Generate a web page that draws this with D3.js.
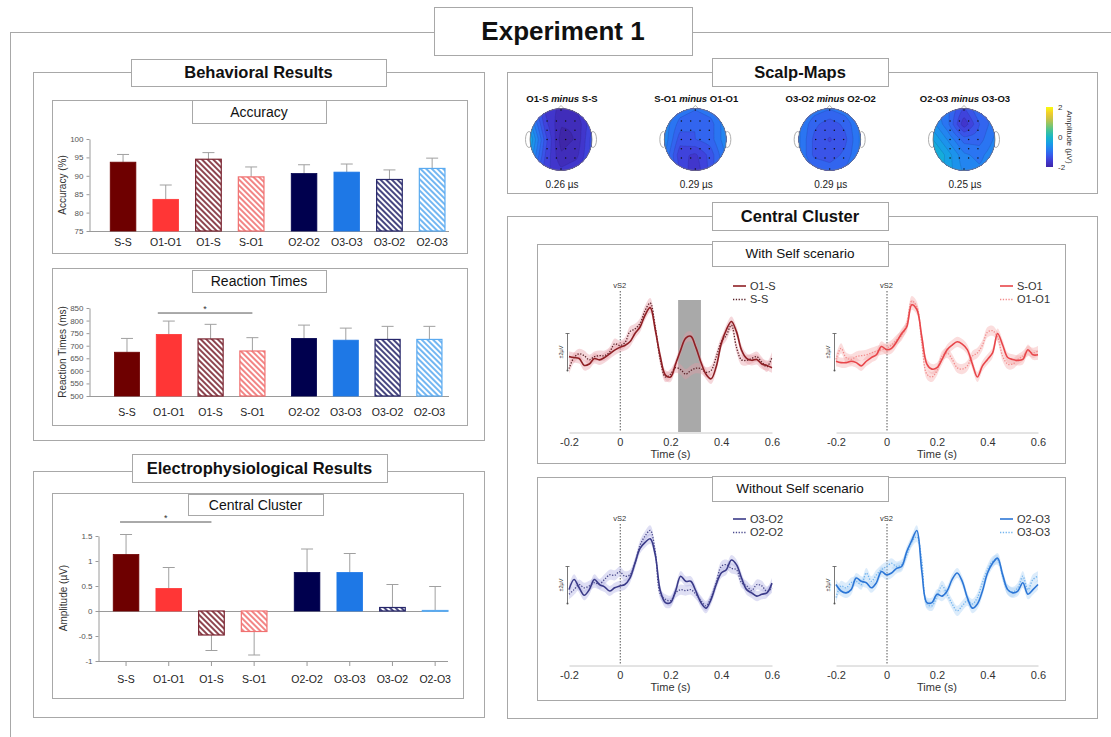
<!DOCTYPE html>
<html><head><meta charset="utf-8">
<script src="https://cdn.jsdelivr.net/npm/d3@7"></script>
<style>body{margin:0;background:#fff}svg{display:block}text{font-family:"Liberation Sans",Arial,Helvetica,sans-serif}</style>
</head><body><svg id="c" width="1111" height="737"></svg>
<script>
// ---------------- DATA ----------------
const groupCats = [["S-S","O1-O1","O1-S","S-O1"],["O2-O2","O3-O3","O3-O2","O2-O3"]];
const categories = groupCats.flat();
const accMean = [93.7, 83.6, 94.5, 89.7, 90.6, 91.0, 89.0, 92.0];
const accSem  = [2.1, 3.9, 1.8, 2.7, 2.4, 2.2, 2.6, 2.8];
const accTicks = [75, 80, 85, 90, 95, 100];
const rtMean = [674, 745, 727, 679, 729, 722, 725, 725];
const rtSem  = [55, 53, 58, 53, 53, 48, 52, 52];
const rtTicks = [500, 550, 600, 650, 700, 750, 800, 850];
const ampMean = [1.13, 0.45, -0.48, -0.41, 0.77, 0.77, 0.07, 0.01];
const ampSem  = [0.40, 0.42, 0.31, 0.47, 0.47, 0.38, 0.46, 0.48];
const ampTicks = [-1, -0.5, 0, 0.5, 1, 1.5];

const erpTimes = d3.range(41).map(i => Math.round((-0.2 + i * 0.02) * 100) / 100);
const erpTicks = [-0.2, 0, 0.2, 0.4, 0.6];
const erpO1S  = [-0.5,-0.6,-0.7,-1.45,-1.3,-0.7,-0.85,-0.6,-0.2,0.2,0.5,0.7,1.1,2.0,2.7,4.0,4.8,2.4,-0.5,-2.5,-2.7,-1.3,0.2,1.5,1.7,0.5,-1.1,-2.4,-2.9,-1.6,0.9,2.4,3.3,2.2,0.2,-0.7,-0.9,-0.8,-1.3,-1.45,-1.7];
const erpSS   = [-1.8,-0.6,-0.2,-0.4,-0.85,-0.5,-0.4,-0.4,0,0.9,0.7,1.0,2.2,2.5,3.1,4.5,5.3,2.7,-0.9,-2.7,-2.4,-1.7,-1.9,-2.4,-2.0,-1.75,-1.8,-2.2,-2.0,-0.55,1.1,1.8,2.9,0.5,-0.85,-0.9,-0.7,-0.5,-1.1,-1.6,-0.55];
const erpSO1  = [-1.0,-1.15,-1.15,-1.0,-1.15,-1.5,-1.0,-0.6,-0.3,0.6,0.25,0.4,1.1,2.0,2.7,5.1,4.6,1.6,-1.3,-1.85,-1.7,-0.8,0.25,0.75,1.1,0.85,0.25,-1.3,-2.7,-1.5,-0.8,-0.1,2.0,0.75,-0.6,-0.8,-0.9,-0.8,0.25,-0.3,-0.3];
const erpO1O1 = [-0.8,0.4,-0.6,-0.8,-0.5,-0.4,-0.3,-0.1,0.1,0.25,0.4,0.75,1.3,1.8,3.0,5.5,4.9,0.9,-2.4,-2.7,-2.0,-0.45,-0.1,-0.8,-1.7,-1.85,-1.5,-0.45,-0.1,0.75,2.15,2.3,1.6,-0.45,-1.3,-1.3,-0.8,-0.45,0.1,-0.1,0.1];
const erpO3O2 = [-0.5,0.6,-0.3,-1.1,-0.5,0.6,0.05,-0.2,-0.65,-0.3,-0.1,0.05,0.75,2.35,3.95,4.6,5.0,3.25,-0.65,-1.9,-1.9,-0.65,0.95,0.4,0.4,-0.65,-1.9,-2.5,-1.55,0.05,1.3,1.65,2.7,2.2,0.75,-0.5,-0.85,-1.2,-1.0,-0.85,0.2];
const erpO2O2 = [-1.0,-0.5,0.05,-0.3,-0.1,0.25,0.1,0.6,1.1,1.05,1.45,0.95,1.1,2.35,4.3,5.3,5.9,3.6,-1.0,-1.55,-1.7,-0.85,-0.5,-0.6,-0.5,-1.0,-1.7,-2.25,-1.35,0.25,2.0,2.2,1.8,1.65,0.25,-0.1,-0.6,0.05,-0.1,-0.7,-0.3];
const erpO2O3 = [0.05,-0.65,-0.85,-0.5,0.75,0.4,0.25,-0.3,0.25,1.45,1.1,1.3,1.8,2.0,3.6,4.8,5.9,1.45,-1.9,-1.9,-1.0,-1.2,-0.65,0.6,1.3,0.4,-1.35,-2.5,-2.05,-0.65,1.3,2.35,2.9,1.1,-0.5,-0.85,-0.65,0.25,-1.0,-0.5,0.05];
const erpO3O3 = [-1.35,-0.1,-0.3,0.25,0.4,0.05,1.3,0.4,1.1,1.65,2.0,2.35,2.0,2.2,3.25,4.65,5.2,2.55,-2.05,-2.25,-1.2,-0.1,-1.0,-2.05,-2.8,-2.25,-1.7,-2.05,-1.35,0.25,1.65,2.55,2.7,0.95,-0.5,-0.75,-0.3,0.95,-0.5,0.6,0.95];
const erpSem = 0.55;
const erpWindow = [0.23, 0.32];

const scalpTitles = [["O1-S","S-S"],["S-O1","O1-O1"],["O3-O2","O2-O2"],["O2-O3","O3-O3"]];
const scalpLatency = ["0.26 µs","0.29 µs","0.29 µs","0.25 µs"];
const scalpGrids = [
  [[-1.0,-1.6,-1.8,-1.7,-1.4],[-0.6,-1.5,-1.9,-1.9,-1.4],[-0.3,-1.3,-2.0,-1.9,-1.3],[-0.5,-1.4,-1.9,-1.8,-1.3],[-0.9,-1.5,-1.7,-1.6,-1.3]],
  [[-0.6,-0.9,-1.0,-0.9,-0.6],[-0.7,-1.1,-1.2,-1.1,-0.7],[-0.7,-1.3,-1.2,-1.1,-0.7],[-0.8,-1.5,-1.6,-1.3,-0.8],[-0.8,-1.4,-1.7,-1.3,-0.8]],
  [[-0.7,-0.9,-1.0,-0.9,-0.7],[-0.8,-1.15,-1.3,-1.15,-0.8],[-0.8,-1.25,-1.4,-1.25,-0.8],[-0.8,-1.25,-1.3,-1.15,-0.8],[-0.7,-1.0,-1.1,-1.0,-0.7]],
  [[-0.8,-1.0,-1.4,-1.0,-0.9],[-0.6,-1.0,-1.7,-1.2,-0.9],[-0.3,-0.7,-1.1,-1.1,-0.8],[0.0,-0.4,-0.8,-0.9,-0.7],[-0.1,-0.4,-0.7,-0.8,-0.7]]
];
const colorbarTicks = [2, 0, -2];

// ---------------- STYLE ----------------
const svg = d3.select("#c");
const GRAY = "#a8a8a8";
const defs = svg.append("defs");
const barStyles = [
  {color:"#6e0000", hatch:false}, {color:"#ff3636", hatch:false},
  {color:"#7a2430", hatch:true},  {color:"#f07070", hatch:true},
  {color:"#00004e", hatch:false}, {color:"#1e78e6", hatch:false},
  {color:"#26266a", hatch:true},  {color:"#5aaaf0", hatch:true}
];
barStyles.forEach((s,i) => {
  if (!s.hatch) return;
  const p = defs.append("pattern").attr("id","h"+i).attr("patternUnits","userSpaceOnUse")
    .attr("width",4).attr("height",4).attr("patternTransform","rotate(-45)");
  p.append("rect").attr("width",4).attr("height",4).attr("fill","#fff");
  p.append("line").attr("x1",2).attr("x2",2).attr("y1",0).attr("y2",4).attr("stroke",s.color).attr("stroke-width",1.7);
});

function frame(x,y,w,h){
  svg.append("rect").attr("x",x+0.5).attr("y",y+0.5).attr("width",w).attr("height",h)
    .attr("fill","none").attr("stroke",GRAY).attr("stroke-width",1);
}
function titleBox(x,y,w,h,text,size,bold){
  svg.append("rect").attr("x",x+0.5).attr("y",y+0.5).attr("width",w).attr("height",h)
    .attr("fill","#fff").attr("stroke",GRAY).attr("stroke-width",1);
  svg.append("text").attr("x",x+w/2).attr("y",y+h/2).attr("dy","0.36em").attr("text-anchor","middle")
    .attr("font-size",size).attr("font-weight",bold?"bold":"normal").attr("fill","#111").text(text);
}

// frames
frame(10,32,1120,720);
frame(33,72,451,368);
frame(52,100,415,153);
frame(52,268,415,157);
frame(33,471,451,246);
frame(52,493,411,205);
frame(507,72,590,121);
frame(507,216,590,502);
frame(537,244,528,219);
frame(537,477,528,223);

titleBox(434,7,258,48,"Experiment 1",26,true);
titleBox(131,59,255,27,"Behavioral Results",16.5,true);
titleBox(192,100,134,23,"Accuracy",14,false);
titleBox(192,270,134,22,"Reaction Times",14,false);
titleBox(132,454,255,28,"Electrophysiological Results",16.5,true);
titleBox(188,494,135,21,"Central Cluster",14,false);
titleBox(712,58,176,28,"Scalp-Maps",16.5,true);
titleBox(712,202,176,28,"Central Cluster",16.5,true);
titleBox(712,241,176,25,"With Self scenario",13.5,false);
titleBox(712,476,176,25,"Without Self scenario",13.5,false);

// ---------------- BAR CHARTS ----------------
function barChart(cfg){
  const g = svg.append("g");
  const xg = d3.scaleBand().domain([0,1]).range(cfg.xRange).paddingInner(cfg.groupPad).paddingOuter(0);
  const xi = d3.scaleBand().domain([0,1,2,3]).range([0,xg.bandwidth()]).paddingInner(0.4).paddingOuter(0.2);
  const y = d3.scaleLinear().domain(cfg.domain).range(cfg.range);
  const xc = i => xg(Math.floor(i/4)) + xi(i%4) + xi.bandwidth()/2;
  const bw = xi.bandwidth();
  g.append("line").attr("x1",cfg.axisX).attr("x2",cfg.axisEnd).attr("y1",Math.round(y(cfg.base))+0.5).attr("y2",Math.round(y(cfg.base))+0.5)
    .attr("stroke","#9a9a9a").attr("stroke-width",1);
  categories.forEach((c,i) => {
    const v = cfg.mean[i], s = barStyles[i];
    const top = Math.min(y(v), y(cfg.base)), h = Math.abs(y(v)-y(cfg.base));
    const dir = v >= cfg.base ? 1 : -1;
    const e = y(v + dir*cfg.sem[i]);
    g.append("line").attr("x1",xc(i)).attr("x2",xc(i)).attr("y1",y(v)).attr("y2",e).attr("stroke","#a0a0a0").attr("stroke-width",1);
    g.append("line").attr("x1",xc(i)-6).attr("x2",xc(i)+6).attr("y1",e).attr("y2",e).attr("stroke","#a0a0a0").attr("stroke-width",1);
    g.append("rect").attr("x",xc(i)-bw/2).attr("y",top).attr("width",bw).attr("height",Math.max(h,0.8))
      .attr("fill", s.hatch ? "url(#h"+i+")" : s.color).attr("stroke",s.color).attr("stroke-width",s.hatch?1.2:0.8);
    g.append("text").attr("x",xc(i)).attr("y",cfg.labelY).attr("text-anchor","middle").attr("font-size",10.5).attr("fill","#222").text(c);
    if (cfg.bottomTicks){
      g.append("line").attr("x1",xc(i)).attr("x2",xc(i)).attr("y1",y(cfg.domain[0])).attr("y2",y(cfg.domain[0])+5).attr("stroke","#9a9a9a");
    }
  });
  if (cfg.bottomTicks){
    g.append("line").attr("x1",cfg.axisX).attr("x2",cfg.axisEnd).attr("y1",y(cfg.domain[0])+0.5).attr("y2",y(cfg.domain[0])+0.5).attr("stroke","#9a9a9a");
  }
  const ax = g.append("g").attr("transform",`translate(${cfg.axisX+0.5},0)`)
    .call(d3.axisLeft(y).tickValues(cfg.ticks).tickSize(3).tickSizeOuter(0).tickPadding(3).tickFormat(cfg.fmt || (d=>d)));
  ax.select(".domain").attr("stroke","#9a9a9a");
  ax.selectAll(".tick line").attr("stroke","#9a9a9a");
  ax.selectAll(".tick text").attr("font-size",8).attr("fill","#555").attr("font-family","Liberation Sans, Arial");
  g.append("text").attr("transform",`translate(${cfg.yLabelPos[0]},${cfg.yLabelPos[1]}) rotate(-90)`)
    .attr("text-anchor","middle").attr("dy","0.35em").attr("font-size",10).attr("fill","#333").text(cfg.yLabel);
  if (cfg.sig){
    const [a,b,val] = cfg.sig;
    const x1 = xc(a) - cfg.sigOff, x2 = xc(b);
    g.append("line").attr("x1",x1).attr("x2",x2).attr("y1",y(val)).attr("y2",y(val)).attr("stroke","#555").attr("stroke-width",1);
    g.append("text").attr("x",(x1+x2)/2).attr("y",y(val)-1).attr("text-anchor","middle").attr("font-size",9).attr("fill","#333").text("*");
  }
}

barChart({mean:accMean, sem:accSem, domain:[75,100], range:[231,139], ticks:accTicks, base:75,
  axisX:89, axisEnd:449, xRange:[101.7,453.5], groupPad:0.0564, labelY:246,
  yLabel:"Accuracy (%)", yLabelPos:[62,185]});
barChart({mean:rtMean, sem:rtSem, domain:[500,850], range:[396,308], ticks:rtTicks, base:500,
  axisX:89, axisEnd:449, xRange:[106.1,450.3], groupPad:0.0554, labelY:416,
  yLabel:"Reaction Times (ms)", yLabelPos:[62,352], sig:[1,3,830], sigOff:11});
barChart({mean:ampMean, sem:ampSem, domain:[-1,1.5], range:[661,536], ticks:ampTicks, base:0,
  axisX:98, axisEnd:448, xRange:[104.7,456.5], groupPad:0.0564, labelY:683, bottomTicks:true,
  fmt: d => d < 0 ? "-" + Math.abs(d) : d,
  yLabel:"Amplitude (µV)", yLabelPos:[63,598], sig:[0,2,1.78], sigOff:6});

// ---------------- SCALP MAPS ----------------
const parula = d3.interpolateRgbBasis(["#3e26a8","#4538d8","#3366f5","#1e8cf0","#10aee0","#1fbfb0","#6cc77a","#c0c448","#f8c030","#f9fb0e"]);
const scalpColor = d3.scaleSequential(parula).domain([-2,2]).clamp(true);
function upsample(grid, N){
  const R = grid.length, C = grid[0].length, out = new Array(N*N);
  for (let j=0;j<N;j++) for (let i=0;i<N;i++){
    const gx = i/(N-1)*(C-1), gy = j/(N-1)*(R-1);
    const x0 = Math.min(Math.floor(gx), C-2), y0 = Math.min(Math.floor(gy), R-2);
    const fx = gx-x0, fy = gy-y0;
    out[j*N+i] = grid[y0][x0]*(1-fx)*(1-fy) + grid[y0][x0+1]*fx*(1-fy) + grid[y0+1][x0]*(1-fx)*fy + grid[y0+1][x0+1]*fx*fy;
  }
  return out;
}
const scalpX = d3.scalePoint().domain(d3.range(4)).range([561,964]);
const scalpCY = 139.5, scalpR = 31, N = 48;
const thr = d3.range(-3, 2.01, 0.18);
const elecCols = [-0.45,-0.15,0.15,0.45], elecRows = [-0.6,-0.3,0,0.3,0.6];
const elec = d3.cross(elecCols, elecRows).concat([[0,-0.95],[0,0.95]]);
scalpGrids.forEach((grid,k) => {
  const cx = scalpX(k), cy = scalpCY, r = scalpR;
  const g = svg.append("g");
  [-1,1].forEach(sd => g.append("ellipse").attr("cx",cx+sd*(r+1)).attr("cy",cy).attr("rx",3.5).attr("ry",8)
     .attr("fill","#fff").attr("stroke","#999").attr("stroke-width",0.8));
  g.append("path").attr("d",`M${cx-4},${cy-r+1}L${cx},${cy-r-3}L${cx+4},${cy-r+1}Z`).attr("fill","#fff").attr("stroke","#999").attr("stroke-width",0.8);
  defs.append("clipPath").attr("id","clip"+k).append("ellipse").attr("cx",cx).attr("cy",cy).attr("rx",r).attr("ry",r);
  const cg = g.append("g").attr("clip-path",`url(#clip${k})`);
  const vals = upsample(grid, N);
  const contours = d3.contours().size([N,N]).thresholds(thr)(vals);
  const path = d3.geoPath(d3.geoIdentity().scale(2*r/(N-1)).translate([cx-r-r/(N-1), cy-r-r/(N-1)]));
  cg.selectAll("path").data(contours).join("path").attr("d",path)
    .attr("fill", d => scalpColor(d.value + 0.09))
    .attr("stroke","#1d1d55").attr("stroke-opacity",0.3).attr("stroke-width",0.45);
  g.append("ellipse").attr("cx",cx).attr("cy",cy).attr("rx",r).attr("ry",r).attr("fill","none").attr("stroke","#777").attr("stroke-width",0.8);
  elec.forEach(([ex,ey]) => g.append("circle").attr("cx",cx+ex*r).attr("cy",cy+ey*r).attr("r",0.75).attr("fill","#111"));
  const t = g.append("text").attr("x",cx+1).attr("y",102).attr("text-anchor","middle").attr("font-size",9.5).attr("font-weight","bold").attr("fill","#111");
  t.append("tspan").text(scalpTitles[k][0] + " ");
  t.append("tspan").attr("font-style","italic").text("minus");
  t.append("tspan").text(" " + scalpTitles[k][1]);
  g.append("text").attr("x",cx+1).attr("y",188).attr("text-anchor","middle").attr("font-size",10).attr("fill","#222").text(scalpLatency[k]);
});
// colorbar
const grad = defs.append("linearGradient").attr("id","cbar").attr("x1",0).attr("x2",0).attr("y1",1).attr("y2",0);
d3.range(0,1.001,0.1).forEach(o => grad.append("stop").attr("offset",o).attr("stop-color",parula(o)));
const cbY = d3.scaleLinear().domain([-2,2]).range([167,107]);
svg.append("rect").attr("x",1046).attr("y",cbY(2)).attr("width",7).attr("height",cbY(-2)-cbY(2)).attr("fill","url(#cbar)");
colorbarTicks.forEach(v => svg.append("text").attr("x",1058).attr("y",cbY(v)).attr("dy","0.35em").attr("font-size",8).attr("fill","#333").text(v));
svg.append("text").attr("transform",`translate(1070,${cbY(0)}) rotate(90)`).attr("text-anchor","middle").attr("dy","0.35em")
  .attr("font-size",8).attr("fill","#333").text("Amplitude (µV)");

// ---------------- ERP PANELS ----------------
function erpPanel(cfg){
  const g = svg.append("g");
  const x = d3.scaleLinear().domain([-0.2,0.6]).range([cfg.x0,cfg.x1]);
  const zero = cfg.axisY - 80;
  const y = d3.scaleLinear().domain([-2,2]).range([zero+18.5, zero-18.5]);
  if (cfg.window){
    g.append("rect").attr("x",x(cfg.window[0])).attr("y",cfg.axisY-132).attr("width",x(cfg.window[1])-x(cfg.window[0]))
      .attr("height",132).attr("fill","#a9a9a9");
  }
  const ax = g.append("g").attr("transform",`translate(0,${cfg.axisY+0.5})`)
    .call(d3.axisBottom(x).tickValues(erpTicks).tickSize(0).tickPadding(6).tickFormat(d => d));
  ax.select(".domain").attr("stroke","#c8c8c8");
  ax.selectAll(".tick text").attr("font-size",11).attr("fill","#333").attr("font-family","Liberation Sans, Arial");
  g.append("text").attr("x",x(0.2)).attr("y",cfg.axisY+26).attr("text-anchor","middle").attr("font-size",11).attr("fill","#333").text("Time (s)");
  g.append("line").attr("x1",x(0)+0.5).attr("x2",x(0)+0.5).attr("y1",cfg.axisY-141).attr("y2",cfg.axisY)
    .attr("stroke","#555").attr("stroke-width",1).attr("stroke-dasharray","1.5,1.5");
  g.append("text").attr("x",x(0)).attr("y",cfg.axisY-144).attr("text-anchor","middle").attr("font-size",7.5).attr("fill","#333").text("vS2");
  const sx = x(-0.2) - 1.5;
  g.append("line").attr("x1",sx).attr("x2",sx).attr("y1",y(2)).attr("y2",y(-2)).attr("stroke","#555").attr("stroke-width",0.8);
  g.append("line").attr("x1",sx-2).attr("x2",sx+2).attr("y1",y(2)).attr("y2",y(2)).attr("stroke","#555").attr("stroke-width",0.8);
  g.append("circle").attr("cx",sx).attr("cy",y(-2)).attr("r",1).attr("fill","#555");
  g.append("text").attr("transform",`translate(${sx-6},${y(0)}) rotate(-90)`).attr("text-anchor","middle").attr("dy","0.35em")
    .attr("font-size",5.5).attr("fill","#333").text("±2µV");
  const curve = d3.curveCatmullRom.alpha(0.5);
  const area = d3.area().curve(curve).x((d,i) => x(erpTimes[i])).y0(d => y(d - erpSem)).y1(d => y(d + erpSem));
  const line = d3.line().curve(curve).x((d,i) => x(erpTimes[i])).y(d => y(d));
  g.append("path").attr("d",area(cfg.dotted)).attr("fill",cfg.band).attr("fill-opacity",0.4);
  g.append("path").attr("d",area(cfg.solid)).attr("fill",cfg.band).attr("fill-opacity",0.4);
  g.append("path").attr("d",line(cfg.dotted)).attr("fill","none").attr("stroke",cfg.dotColor).attr("stroke-width",1.3).attr("stroke-dasharray","1.3,1.5");
  g.append("path").attr("d",line(cfg.solid)).attr("fill","none").attr("stroke",cfg.solidColor).attr("stroke-width",1.6);
  const lx = cfg.legendX;
  [[cfg.names[0], cfg.solidColor, null, 1.6],[cfg.names[1], cfg.dotColor, "1.3,1.5", 1.3]].forEach(([n,c,da,w],j) => {
    const ly = cfg.axisY - 146 + j*13.5;
    g.append("line").attr("x1",lx).attr("x2",lx+13).attr("y1",ly).attr("y2",ly).attr("stroke",c).attr("stroke-width",w).attr("stroke-dasharray",da);
    g.append("text").attr("x",lx+17).attr("y",ly).attr("dy","0.36em").attr("font-size",11).attr("fill","#333").text(n);
  });
}

erpPanel({x0:569, x1:772, axisY:432, solid:erpO1S, dotted:erpSS, names:["O1-S","S-S"],
  solidColor:"#8e1f24", dotColor:"#5a2228", band:"#e59aa4", legendX:733, window:erpWindow});
erpPanel({x0:836, x1:1038, axisY:432, solid:erpSO1, dotted:erpO1O1, names:["S-O1","O1-O1"],
  solidColor:"#e8464a", dotColor:"#f28c8c", band:"#f6aaaa", legendX:1000});
erpPanel({x0:569, x1:772, axisY:665, solid:erpO3O2, dotted:erpO2O2, names:["O3-O2","O2-O2"],
  solidColor:"#3a3a88", dotColor:"#4c4c8e", band:"#aeb0e4", legendX:733});
erpPanel({x0:836, x1:1038, axisY:665, solid:erpO2O3, dotted:erpO3O3, names:["O2-O3","O3-O3"],
  solidColor:"#2c76d6", dotColor:"#72b4ee", band:"#a8d0f6", legendX:1000});
</script></body></html>
